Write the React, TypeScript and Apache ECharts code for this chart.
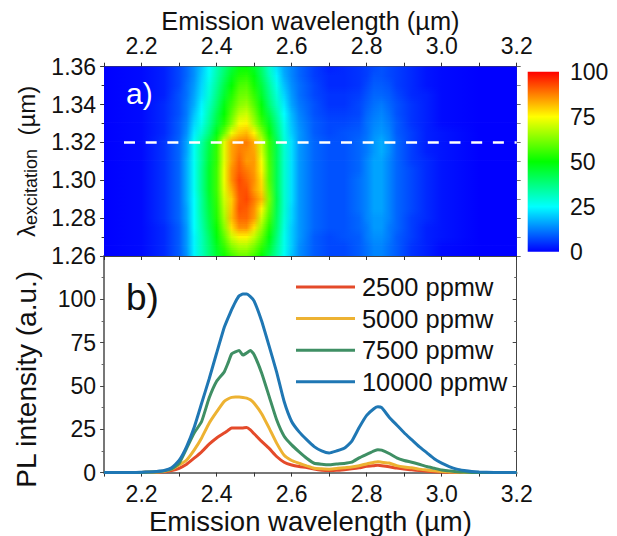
import React, { useEffect, useRef } from "react";
import * as echarts from "echarts";

const FONT = "Liberation Sans";
const INK = "#111111";

const seriesNames = ["2500 ppmw", "5000 ppmw", "7500 ppmw", "10000 ppmw"];
const seriesColors = ["#e44a2a", "#edb232", "#3f8f64", "#1f77b4"];

const wavelengths = [2.10,2.14,2.18,2.20,2.22,2.24,2.26,2.28,2.30,2.32,2.34,2.36,2.38,2.40,2.42,2.43,2.44,2.45,2.46,2.47,2.48,2.49,2.50,2.52,2.54,2.56,2.58,2.60,2.62,2.64,2.66,2.68,2.70,2.72,2.74,2.76,2.78,2.80,2.82,2.83,2.84,2.86,2.88,2.90,2.92,2.94,2.96,2.98,3.00,3.02,3.04,3.06,3.08,3.10,3.14,3.20];
const ppm2500 = [0,0,0,0.1,0.2,0.3,0.5,1.2,2.5,4.8,8.3,12,16.4,20,22.8,24.3,25.7,25.7,25.7,25.8,26,24.7,22.4,18,14,9.3,6,4.4,3.5,2.9,2,1.4,1.2,1.3,1.7,2.2,2.8,3.6,4,4.2,4,3.4,2.6,2,1.6,1.2,0.8,0.5,0.3,0.2,0.1,0,0,0,0,0];
const ppm5000 = [0,0,0,0.1,0.2,0.4,0.8,2,4.4,7.3,13,20,28.5,35,41,42.5,43.4,43.6,43.6,43.4,43,42,40,34,25.7,17,10,7,5.4,3.9,2.5,2.2,2,2.3,2.8,3.2,4,5,6,6.3,6,5.5,4,3.2,2.8,2,1.5,1,0.6,0.4,0.2,0.1,0,0,0,0];
const ppm7500 = [0,0,0,0.1,0.3,0.5,1,2.2,5.4,14,22.8,29.5,43,52.7,58,63,68.5,69.7,70.5,67.8,69,70.5,68,57.5,44,30.5,21,16,12,8.3,5.4,4.8,4.5,5,5.3,6,8.5,10.5,12.5,13.2,13,11,8.5,7,6,4.8,3.5,2.5,1.5,1,0.5,0.3,0.1,0,0,0];
const ppm10000 = [0,0,0,0.2,0.4,0.7,1.2,2.8,7,15,26,40,54,69,83.6,89,94,98.5,102,103,103,101.5,99,87.5,73,58,41,29.5,23.5,19,15,12.5,11.3,12.5,14,18,26,33,37,38,37.5,32,27.5,23,19,15,11.5,8,5.5,3.5,2,1.2,0.6,0.3,0.1,0];
const plSeries = [ppm2500, ppm5000, ppm7500, ppm10000];

const heatWavelengths = [2.10,2.20,2.26,2.30,2.32,2.34,2.36,2.38,2.40,2.42,2.44,2.46,2.48,2.50,2.52,2.54,2.56,2.58,2.60,2.62,2.66,2.70,2.74,2.78,2.80,2.82,2.84,2.86,2.88,2.92,2.96,3.00,3.10,3.20];
const excitation = [1.360,1.355,1.350,1.345,1.340,1.335,1.330,1.325,1.320,1.315,1.310,1.305,1.300,1.295,1.290,1.285,1.280,1.275,1.270,1.265,1.260];
const heatRows = [
  [0,1,3,7,10,14,19,25,32,38,44,49,50,46,39,30,22,16,13,10,6,3,4,5,6,7,8,7,6,4,2,1,0,0],
  [0,1,3,7,10,14,20,26,33,40,47,53,54,49,41,32,24,17,13,10,6,4,4,5,6,8,8,7,6,4,2,1,0,0],
  [0,1,3,7,11,15,21,28,35,43,50,57,58,52,44,35,27,19,14,11,7,4,4,5,7,9,9,8,6,4,2,1,0,0],
  [0,1,3,8,11,16,22,29,37,45,53,60,61,55,46,37,29,21,15,11,7,5,5,6,8,10,10,9,7,4,3,1,0,0],
  [0,1,4,8,12,17,24,31,39,48,56,63,65,58,49,39,31,23,16,12,8,5,5,7,9,11,12,10,8,5,3,1,0,0],
  [0,1,4,8,12,19,25,33,42,50,59,68,70,62,52,43,34,25,18,13,8,6,6,7,10,12,13,11,8,5,3,1,0,0],
  [0,1,4,9,13,21,27,35,44,53,63,74,76,66,56,47,37,27,19,14,9,7,7,8,11,13,14,12,9,5,3,1,0,0],
  [0,1,4,9,14,23,30,38,48,60,73,80,82,76,63,51,39,28,20,15,9,7,8,9,11,14,15,13,9,6,3,2,0,0],
  [0,1,5,10,16,26,34,43,54,72,84,87,88,83,70,55,42,29,22,15,10,8,8,10,12,15,17,14,10,6,3,2,0,0],
  [0,1,5,10,16,26,35,44,55,72,84,88,86,84,71,56,42,30,22,15,10,8,8,10,12,15,17,14,10,6,3,2,0,0],
  [0,1,5,10,17,26,35,45,55,72,84,90,85,85,74,57,42,30,22,15,10,8,8,10,13,16,16,13,10,6,4,2,0,0],
  [0,1,5,10,17,26,36,46,56,73,86,91,88,85,76,58,42,30,22,15,10,8,8,10,13,16,16,13,10,7,4,2,0,0],
  [0,1,5,10,17,26,36,46,56,73,86,93,90,86,78,58,42,30,22,15,10,8,8,11,13,16,16,13,10,7,4,2,0,0],
  [0,1,5,10,17,26,36,46,56,72,83,92,92,85,79,60,42,30,22,15,10,8,8,11,13,16,16,13,10,7,4,2,0,0],
  [0,1,5,10,17,25,35,45,55,70,80,91,93,88,82,62,43,30,22,15,10,8,8,11,13,16,16,13,10,7,4,2,0,0],
  [0,1,5,10,16,25,35,44,54,68,81,92,91,86,76,60,42,30,21,15,10,8,8,11,13,16,16,13,10,7,4,2,0,0],
  [0,1,5,10,16,25,34,43,53,66,82,90,90,85,70,57,41,29,21,15,10,8,8,10,13,15,15,13,10,6,4,2,0,0],
  [0,1,4,9,15,25,33,42,51,63,78,86,86,78,65,53,40,28,20,15,10,8,8,10,12,15,15,12,10,6,3,2,0,0],
  [0,1,4,9,15,24,32,40,49,59,70,76,76,69,60,49,38,27,20,15,9,7,8,9,12,14,14,12,9,6,3,2,0,0],
  [0,1,4,9,15,24,32,39,47,55,63,67,67,62,55,46,36,27,20,14,9,7,7,9,11,13,13,11,9,5,3,1,0,0],
  [0,1,4,9,14,24,31,38,45,51,56,60,60,56,50,42,34,26,19,14,9,7,7,9,11,13,13,11,9,5,3,1,0,0],
];
const dashedLine = [[2.153, 1.32], [3.2, 1.32]];

const colorKnots: [number, number[]][] = [
  [0, [0, 0, 255]], [25, [0, 255, 255]], [50, [0, 255, 0]], [75, [255, 255, 0]], [100, [255, 0, 0]],
];
function heatColor(v: number) {
  for (let i = 1; i < colorKnots.length; i++) {
    const [a, ca] = colorKnots[i - 1];
    const [b, cb] = colorKnots[i];
    if (v <= b) {
      const t = (v - a) / (b - a);
      return `rgb(${ca.map((c, k) => Math.round(c + (cb[k] - c) * t)).join(",")})`;
    }
  }
  return "rgb(255,0,0)";
}

const X0 = 2.1, X1 = 3.2;
const GL = 104.1, GW = 412.6;
const noBounds = { outerBoundsMode: "none" };
// Each pass redraws the same rows shifted by part of a row, so that the row edges blend.
const ROW = 0.005;
const blendPasses = [
  { shift: -0.375, opacity: 1 },
  { shift: -0.125, opacity: 1 / 2 },
  { shift: 0.125, opacity: 1 / 3 },
  { shift: 0.375, opacity: 1 / 4 },
];

function xBase(extra: any) {
  return {
    type: "value", min: X0, max: X1, interval: 0.1,
    axisLine: { show: true, lineStyle: { color: "#444", width: 1 } },
    splitLine: { show: false },
    ...extra,
  };
}
const hidden = { show: false };

export default function App() {
  const ref = useRef<HTMLDivElement>(null);
  useEffect(() => {
    const chart = echarts.init(ref.current!, null, { renderer: "svg" });
    const xTickValues = [2.2, 2.4, 2.6, 2.8, 3.0, 3.2];
    const labelStyle = { color: INK, fontFamily: FONT, fontSize: 23 };
    const xLabel = {
      show: true, ...labelStyle, customValues: xTickValues,
      formatter: (v: number) => v.toFixed(1),
    };
    const xTick = { show: true, length: 4, lineStyle: { color: "#333" } };
    chart.setOption({
      animation: false,
      backgroundColor: "#fff",
      textStyle: { fontFamily: FONT },
      grid: [
        { left: GL, top: 66.7, width: GW, height: 189.3, ...noBounds },
        { left: GL, top: 256, width: GW, height: 216.6, ...noBounds },
        { left: 527.7, top: 71.7, width: 31.3, height: 180, ...noBounds },
      ],
      legend: {
        data: seriesNames,
        left: 291,
        top: 269,
        orient: "vertical",
        icon: "rect",
        itemWidth: 59,
        itemHeight: 3,
        itemGap: 5.6,
        selectedMode: false,
        textStyle: { color: INK, fontFamily: FONT, fontSize: 25.4, padding: [0, 0, 0, 2], lineHeight: 26 },
      },
      xAxis: [
        xBase({
          gridIndex: 0, position: "top", name: "Emission wavelength (µm)", nameLocation: "middle",
          nameGap: 33, nameTextStyle: { color: INK, fontFamily: FONT, fontSize: 25.4 },
          axisLabel: { ...xLabel, margin: 9 }, axisTick: xTick,
        }),
        xBase({
          gridIndex: 0, position: "bottom", axisLabel: hidden, axisTick: xTick,
        }),
        xBase({
          gridIndex: 1, position: "bottom", name: "Emission wavelength (µm)", nameLocation: "middle",
          nameGap: 35, nameTextStyle: { color: INK, fontFamily: FONT, fontSize: 27.5 },
          axisLine: { show: true, lineStyle: { color: "#777", width: 2 } },
          axisLabel: { ...xLabel, margin: 10 }, axisTick: xTick,
        }),
        { gridIndex: 2, type: "value", min: 0, max: 1, show: false },
      ],
      yAxis: [
        {
          gridIndex: 0, type: "value", position: "left", min: 1.26, max: 1.36, interval: 0.02,
          name: "{a|λ}{b|excitation}{a|  (µm)}", nameLocation: "middle", nameRotate: 90, nameGap: 60,
          nameTextStyle: {
            color: INK, fontFamily: FONT,
            rich: {
              a: { fontFamily: FONT, fontSize: 24, color: INK },
              b: { fontFamily: FONT, fontSize: 18, color: INK, verticalAlign: "bottom", padding: [10, 0, 0, 0] },
            },
          },
          axisLine: { show: true, lineStyle: { color: "#444", width: 1 } },
          axisTick: { show: true, length: 4, lineStyle: { color: "#333" } },
          minorTick: { show: true, splitNumber: 2, length: 2.5, lineStyle: { color: "#333" } },
          axisLabel: { ...labelStyle, margin: 8, formatter: (v: number) => v.toFixed(2), showMinLabel: true, showMaxLabel: true },
          splitLine: { show: false },
        },
        {
          gridIndex: 0, type: "value", position: "right", min: 1.26, max: 1.36, interval: 0.02,
          axisLine: { show: true, lineStyle: { color: "#444", width: 1 } },
          axisTick: { show: true, length: 4, lineStyle: { color: "#666" } },
          minorTick: { show: true, splitNumber: 2, length: 4, lineStyle: { color: "#888" } },
          axisLabel: hidden, splitLine: { show: false },
        },
        {
          gridIndex: 1, type: "value", position: "left", min: 0, max: 125, interval: 25,
          name: "PL intensity (a.u.)", nameLocation: "middle", nameRotate: 90, nameGap: 64,
          nameTextStyle: { color: INK, fontFamily: FONT, fontSize: 28, padding: [0, 30, 0, 0] },
          axisLine: { show: true, lineStyle: { color: "#777", width: 2 } },
          axisTick: { show: true, length: 4, lineStyle: { color: "#444" } },
          minorTick: { show: true, splitNumber: 2, length: 2.5, lineStyle: { color: "#666" } },
          axisLabel: {
            ...labelStyle, margin: 8,
            formatter: (v: number) => (v > 100 ? "" : String(v)),
          },
          splitLine: { show: false },
        },
        {
          gridIndex: 1, type: "value", position: "right", min: 0, max: 125, interval: 25,
          axisLine: { show: true, lineStyle: { color: "#444", width: 1 } },
          axisTick: { show: true, inside: true, length: 4, lineStyle: { color: "#444" } },
          minorTick: { show: true, splitNumber: 2, length: 2.5, lineStyle: { color: "#666" } },
          axisLabel: hidden, splitLine: { show: false },
        },
        {
          gridIndex: 2, type: "value", position: "right", min: 0, max: 100, interval: 25,
          axisLine: hidden, axisTick: hidden, splitLine: hidden,
          axisLabel: { ...labelStyle, margin: 11 },
        },
      ],
      series: [
        ...blendPasses.map((pass, k) => ({
          type: "custom",
          name: `map${k}`,
          xAxisIndex: 0, yAxisIndex: 0,
          clip: true, silent: true, z: 1,
          data: excitation.map((y) => [X0, y, X1]),
          encode: { x: [0, 2], y: 1 },
          renderItem: (params: any, api: any) => {
            const y = api.value(1) + pass.shift * ROW;
            const a = api.coord([api.value(0), y + ROW / 2]);
            const b = api.coord([api.value(2), y - ROW / 2]);
            const row = heatRows[params.dataIndex];
            const stops = heatWavelengths.map((w, i) => ({
              offset: (w - X0) / (X1 - X0),
              color: heatColor(row[i]),
            }));
            return {
              type: "rect",
              shape: { x: a[0], y: a[1], width: b[0] - a[0], height: b[1] - a[1] + (k === 0 ? 0.5 : 0) },
              style: { fill: new echarts.graphic.LinearGradient(0, 0, 1, 0, stops), opacity: pass.opacity },
            };
          },
        })),
        {
          type: "line",
          name: "cut",
          xAxisIndex: 0, yAxisIndex: 0,
          data: dashedLine,
          symbol: "none", silent: true, z: 5,
          lineStyle: { color: "#ffffff", width: 2.5, type: [11, 10.7] },
        },
        {
          type: "custom",
          name: "scale",
          xAxisIndex: 3, yAxisIndex: 4,
          silent: true,
          data: [[0, 0, 1, 100]],
          encode: { x: [0, 2], y: [1, 3] },
          renderItem: (_p: any, api: any) => {
            const a = api.coord([api.value(0), api.value(3)]);
            const b = api.coord([api.value(2), api.value(1)]);
            const stops = colorKnots.map(([v]) => ({ offset: 1 - v / 100, color: heatColor(v) })).reverse();
            return {
              type: "rect",
              shape: { x: a[0], y: a[1], width: b[0] - a[0], height: b[1] - a[1] },
              style: { fill: new echarts.graphic.LinearGradient(0, 0, 0, 1, stops) },
            };
          },
        },
        ...plSeries.map((values, i) => ({
          type: "line",
          name: seriesNames[i],
          xAxisIndex: 2, yAxisIndex: 2,
          data: values.map((v, k) => [wavelengths[k], v]),
          symbol: "none",
          smooth: 0.15,
          z: 3 + i,
          color: seriesColors[i],
          lineStyle: { color: seriesColors[i], width: 3 },
        })),
      ],
      graphic: [
        { type: "text", left: 126, top: 78, z: 10, style: { text: "a)", fill: "#ffffff", fontFamily: FONT, fontSize: 30 } },
        { type: "text", left: 126, top: 279, z: 10, style: { text: "b)", fill: "#111111", fontFamily: FONT, fontSize: 37 } },
      ],
    });
    return () => chart.dispose();
  }, []);
  return (
    <div
      ref={ref}
      style={{ position: "fixed", left: 0, top: 0, width: 617, height: 536, background: "#fff" }}
    />
  );
}
